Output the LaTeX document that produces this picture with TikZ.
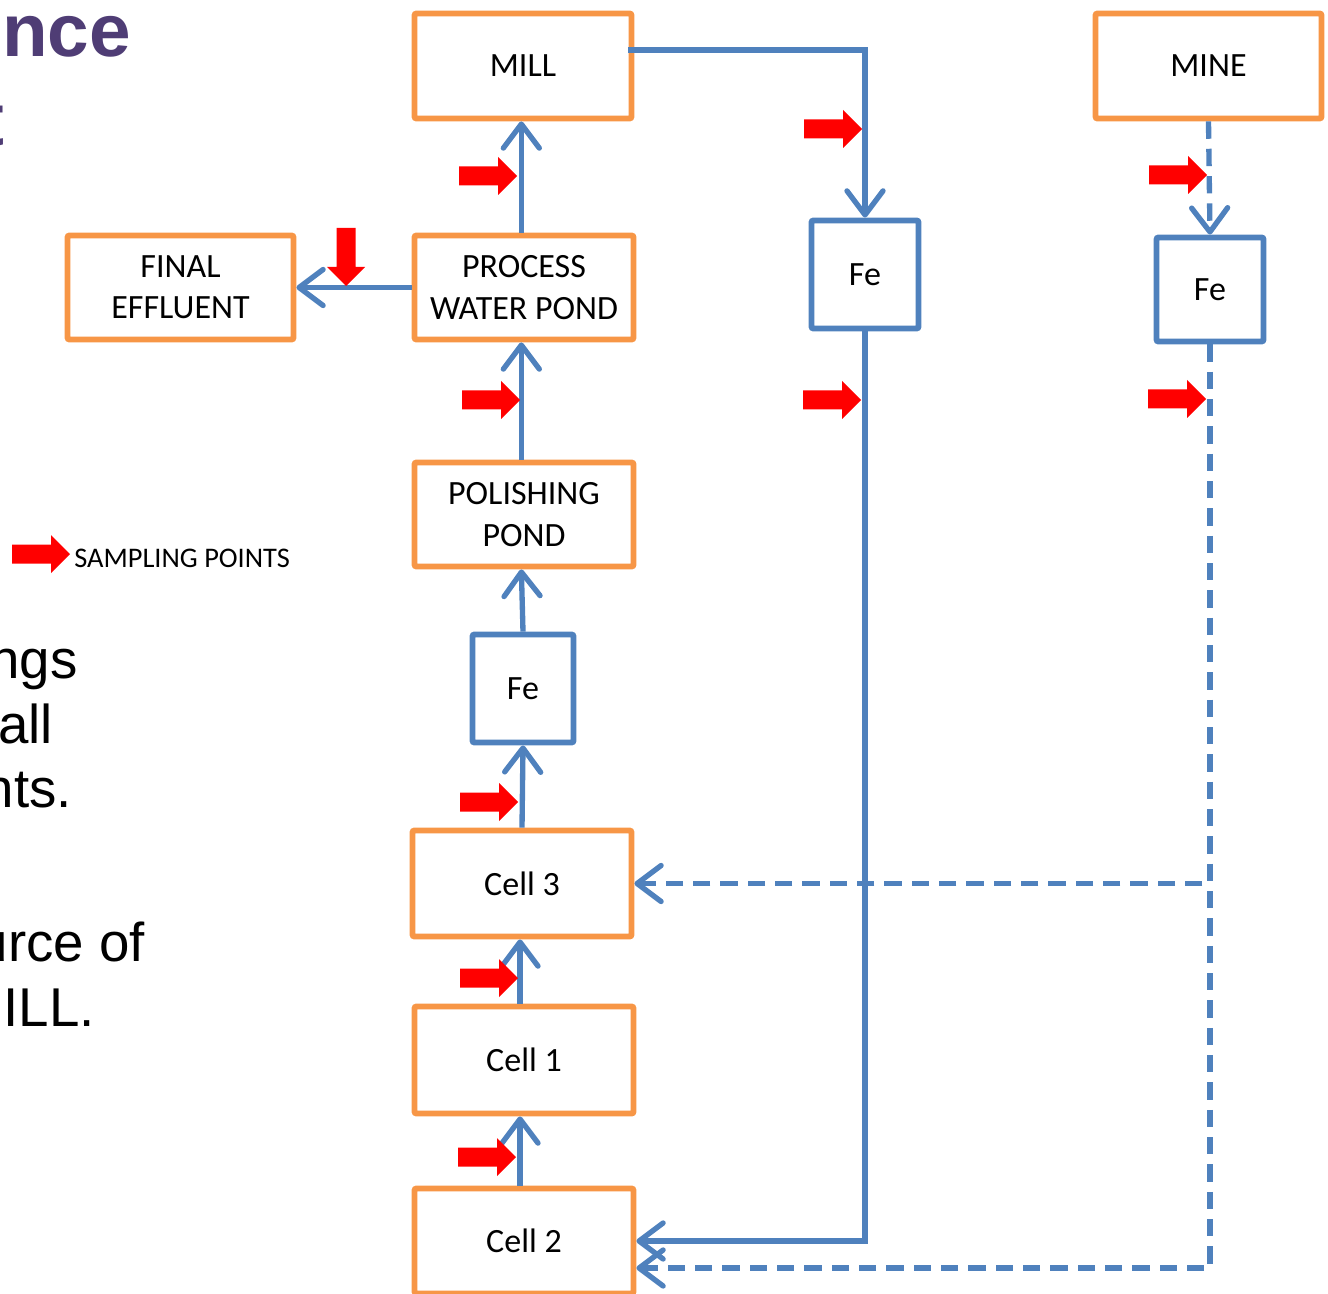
\documentclass[tikz,border=0pt]{standalone}
\usepackage{fontspec}
\setmainfont{Carlito}
\newfontfamily\arialfont{Liberation Sans}
\usepackage{tikz}
\usetikzlibrary{arrows.meta}
\usetikzlibrary{positioning}
\definecolor{mblue}{RGB}{79, 129, 189}
\definecolor{morange}{RGB}{247, 150, 70}
\definecolor{mred}{RGB}{255, 0, 0}
\definecolor{mpurple}{RGB}{79, 61, 117}
\tikzset{
  orbox/.style 2 args = {draw = morange, line width = 4.4pt, rounded corners = 1.5pt,
    fill = white, align = center, minimum width = #1*0.75pt, minimum height = #2*0.75pt,
    font = \fontsize{25.5}{31}\selectfont},
  febox/.style 2 args = {orbox = {#1}{#2}, draw = mblue},
  flow/.style = {draw = mblue, line width = 4pt,
    -{Straight Barb[length = 18pt, width = 27pt, line cap = round, line join = round]}},
  dflow/.style = {flow, dash pattern = on 13pt off 7.5pt},
  samp/.pic = {\fill [mred] (0, 0) -- (-19, -19) -- (-19, -9.5) -- (-58, -9.5)
    -- (-58, 9.5) -- (-19, 9.5) -- (-19, 19) -- cycle;},
}

\begin{document}
\begin{tikzpicture}[x = 0.75pt, y = -0.75pt]
    \useasboundingbox (0, 0) rectangle (1328, 1294);
    % slide text cut off on the left
    \node [anchor = base east, inner sep = 0, text = mpurple,
      font = \arialfont\bfseries\fontsize{56}{60}\selectfont] (ttl1) at (131, 57) {nce};
    \node [anchor = base east, inner sep = 0, text = mpurple,
      font = \arialfont\bfseries\fontsize{56}{60}\selectfont] (ttl2) at (5, 146) {t};
    \begin{scope}[every node/.style = {anchor = base east, inner sep = 0,
        font = \arialfont\fontsize{41}{46}\selectfont}]
      \node (bd1) at (78, 678) {ngs};
      \node (bd2) at (53, 743) {all};
      \node (bd3) at (72, 807) {nts.};
      \node (bd4) at (145, 961) {urce of};
      \node (bd5) at (95, 1026) {MILL.};
    \end{scope}

    % boxes
    \node [orbox = {217}{105}] (mill) at (523, 66) {MILL};
    \node [orbox = {226}{105}] (mine) at (1208.5, 66) {MINE};
    \node [orbox = {226}{104}] (effl) at (180.5, 287.5) {FINAL\\EFFLUENT};
    \node [orbox = {219}{104}] (pwp) at (524, 287.5) {PROCESS\\WATER POND};
    \node [febox = {107}{108}] (fem) at (865, 274.5) {Fe};
    \node [febox = {107}{104}] (fer) at (1210, 289.5) {Fe};
    \node [orbox = {219}{104}] (pol) at (524, 514.5) {POLISHING\\POND};
    \node [febox = {101}{108}] (fel) at (523, 688.5) {Fe};
    \node [orbox = {219}{106}] (cell3) at (522, 883.5) {Cell 3};
    \node [orbox = {219}{107}] (cell1) at (524, 1060) {Cell 1};
    \node [orbox = {219}{105}] (cell2) at (524, 1241) {Cell 2};

    % flows
    \draw [flow] ([xshift = -2pt]pwp.north) -- ([xshift = -2pt]pwp.north |- mill.south);
    \draw [flow] ([xshift = -4.5pt, yshift = 12pt]mill.east) -| (fem.north);
    \draw [dflow] (mine.south) -- (fer.north);
    \draw [flow] (pwp.west) -- (effl.east);
    \draw [flow] ([xshift = -2pt]pol.north) -- ([xshift = -2pt]pwp.south);
    \draw [flow] (fel.north) -- ([xshift = -2pt]pol.south);
    \draw [flow] (cell3.north) -- (fel.south);
    \draw [flow] ([xshift = -3pt]cell1.north) -- ([xshift = -3pt]cell1.north |- cell3.south);
    \draw [flow] ([xshift = -3pt]cell2.north) -- ([xshift = -3pt]cell1.south);
    \draw [flow] (fem.south) |- (cell2.east);
    \draw [dflow] (fer.south) |- (cell3.east);
    \draw [dflow] (fer.south) |- ([yshift = -20.25pt]cell2.east);

    % sampling points
    \pic at (517, 176) {samp};
    \pic at (862, 129) {samp};
    \pic at (1207, 175) {samp};
    \pic at (520, 400) {samp};
    \pic at (861, 400) {samp};
    \pic at (1206, 399) {samp};
    \pic at (518, 802) {samp};
    \pic at (518, 978) {samp};
    \pic at (516, 1157) {samp};
    \pic [rotate = -90] at (346, 286) {samp};
    \pic at (70, 554) {samp};
    \node [anchor = base west, inner sep = 0, font = \fontsize{21.3}{25}\selectfont]
      (legend) at (74, 567) {SAMPLING POINTS};
  \end{tikzpicture}
\end{document}
